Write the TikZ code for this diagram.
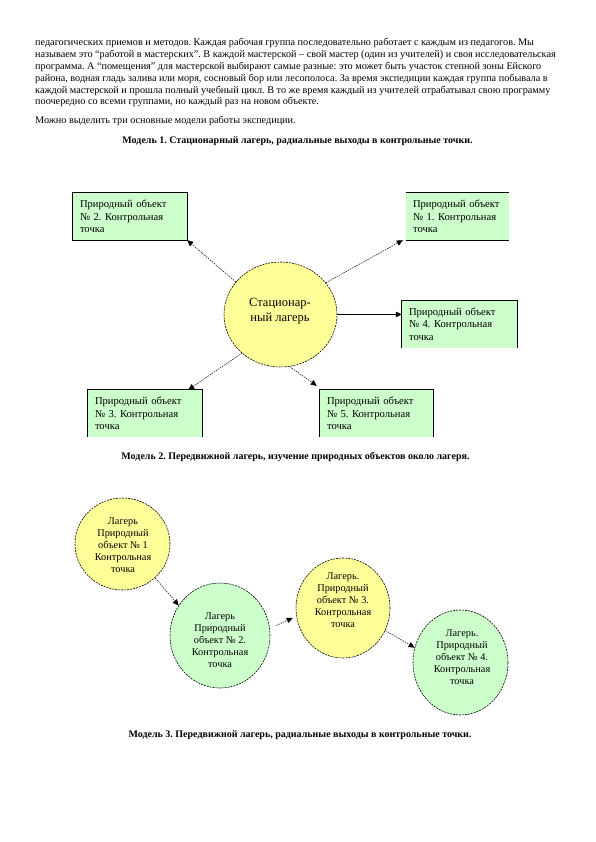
\documentclass[tikz,border=0pt]{standalone}
\usepackage{fontspec}
\setmainfont{Liberation Serif}
\usetikzlibrary{arrows.meta,shapes.geometric}
\definecolor{boxgreen}{RGB}{204,255,204}
\definecolor{campyellow}{RGB}{255,255,153}
\frenchspacing
\tikzset{
  para/.style={anchor=base west, inner sep=0pt, font=\fontsize{10.2}{12}\selectfont},
  ttl/.style={anchor=base, inner sep=0pt, font=\fontsize{10}{12}\selectfont\bfseries},
  box/.style={fill=boxgreen, inner xsep=7pt, inner ysep=0pt, minimum height=47pt,
    text width=#1, align=left, font=\fontsize{10.6}{12.5}\selectfont},
  edge/.style={line width=0.8pt, black},
  oval/.style={ellipse, draw=black, line width=0.6pt, dash pattern=on 2pt off 1pt, inner sep=0pt},
  otext/.style={inner sep=0pt, align=center, font=\fontsize{10.3}{12}\selectfont},
  arr/.style={line width=0.5pt, dash pattern=on 1.5pt off 1pt, -{Triangle[length=6pt,width=5.5pt]}},
  sarr/.style={line width=0.6pt, -{Triangle[length=6pt,width=5.5pt]}}
}
\begin{document}
\begin{tikzpicture}[x=1pt,y=-1pt]
\useasboundingbox[fill=white] (0,0) rectangle (595,842);

% paragraph
\node[para] (l1) at (35,45.5) {педагогических приемов и методов. Каждая рабочая группа последовательно работает с каждым из педагогов. Мы};
\node[para] (l2) at (35,57.4) {называем это “работой в мастерских”. В каждой мастерской – свой мастер (один из учителей) и своя исследовательская};
\node[para] (l3) at (35,69.3) {программа. А “помещения” для мастерской выбирают самые разные: это может быть участок степной зоны Ейского};
\node[para] (l4) at (35,81.2) {района, водная гладь залива или моря, сосновый бор или лесополоса. За время экспедиции каждая группа побывала в};
\node[para] (l5) at (35,93.1) {каждой мастерской и прошла полный учебный цикл. В то же время каждый из учителей отрабатывал свою программу};
\node[para] (l6) at (35,105) {поочередно со всеми группами, но каждый раз на новом объекте.};
\node[para] (l7) at (35,123.5) {Можно выделить три основные модели работы экспедиции.};

\node[ttl] (t1) at (297.5,143.5) {Модель 1. Стационарный лагерь, радиальные выходы в контрольные точки.};
\node[ttl] (t2) at (295.5,459.5) {Модель 2. Передвижной лагерь, изучение природных объектов около лагеря.};
\node[ttl] (t3) at (300,737.5) {Модель 3. Передвижной лагерь, радиальные выходы в контрольные точки.};

% Model 1
\node[oval, fill=campyellow, minimum width=113pt, minimum height=105pt] (camp) at (280.5,314.5) {};
\node[otext, font=\fontsize{12.5}{15}\selectfont] (campt) at (280,311) {Стационар-\\ный лагерь};

\node[box=89pt] (b1) at (457.5,216.5) {Природный объект\\№ 1. Контрольная\\точка};
\node[box=100pt] (b2) at (130,216.5) {Природный объект\\№ 2. Контрольная\\точка};
\node[box=100pt] (b3) at (145,413.5) {Природный объект\\№ 3. Контрольная\\точка};
\node[box=101pt] (b4) at (459.5,324) {Природный объект\\№ 4. Контрольная\\точка};
\node[box=99pt] (b5) at (376.5,413.5) {Природный объект\\№ 5. Контрольная\\точка};

\draw[edge] (b1.north west) -- (b1.north east);
\draw[edge] (b1.south west) -- (b1.south east);
\draw[edge] (b2.north west) rectangle (b2.south east);
\draw[edge] (b3.south west) -- (b3.north west) -- (b3.north east) -- (b3.south east);
\draw[edge] (b4.south west) -- (b4.north west) -- (b4.north east) -- (b4.south east);
\draw[edge] (b5.south west) -- (b5.north west) -- (b5.north east) -- (b5.south east);

\draw[arr] (camp.144) -- (b2.south east);
\draw[arr] (camp.35) -- ([xshift=-3pt]b1.south west);
\draw[sarr] (camp.east) -- (camp.east -| b4.west);
\draw[arr] (camp.225) -- ([xshift=-14pt]b3.north east);
\draw[arr] (camp.-80) -- ([xshift=-3pt,yshift=4pt]b5.north west);

% Model 2
\node[oval, fill=campyellow, minimum width=95pt, minimum height=92pt] (e1) at (122.5,544) {};
\node[otext] (e1t) at (123,545.5) {Лагерь\\Природный\\объект № 1\\Контрольная\\точка};
\node[oval, fill=boxgreen, minimum width=100pt, minimum height=105pt] (e2) at (220,635.5) {};
\node[otext] (e2t) at (220,640.5) {Лагерь\\Природный\\объект № 2.\\Контрольная\\точка};
\node[oval, fill=campyellow, minimum width=94pt, minimum height=100pt] (e3) at (343,608) {};
\node[otext] (e3t) at (343,600) {Лагерь.\\Природный\\объект № 3.\\Контрольная\\точка};
\node[oval, fill=boxgreen, minimum width=95pt, minimum height=105pt] (e4) at (460.5,662.5) {};
\node[otext] (e4t) at (462,657.5) {Лагерь.\\Природный\\объект № 4.\\Контрольная\\точка};

\draw[arr] (e1.-46) -- (e2.144);
\draw[arr, shorten <=7pt, shorten >=4pt] (e2.8) -- (e3.190);
\draw[arr] (e3.-28) -- (e4.162);
\end{tikzpicture}
\end{document}
